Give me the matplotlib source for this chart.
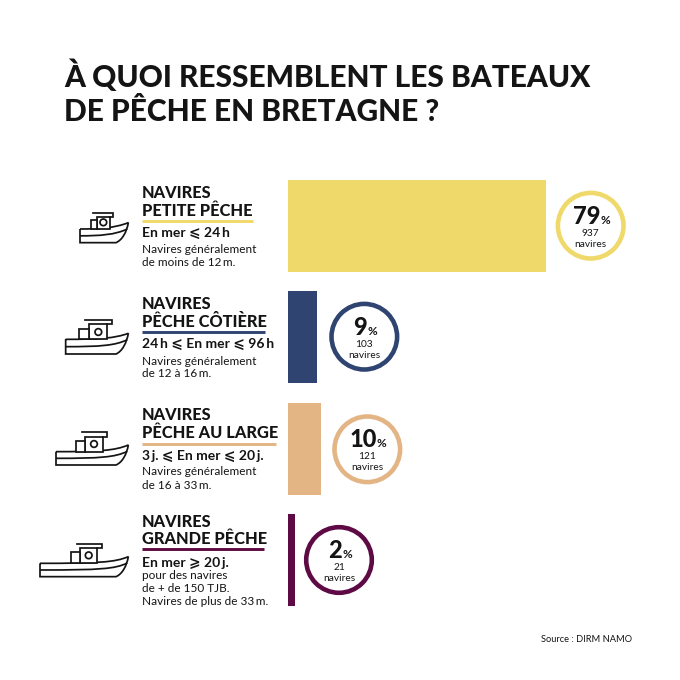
import matplotlib
matplotlib.use("Agg")
import matplotlib.pyplot as plt
from matplotlib.patches import Circle, Rectangle, PathPatch
from matplotlib.path import Path

FONT = ['Lato', 'DejaVu Sans']
INK = '#141414'

title_lines = ["À QUOI RESSEMBLENT LES BATEAUX", "DE PÊCHE EN BRETAGNE ?"]
categories = ["PETITE PÊCHE", "PÊCHE CÔTIÈRE", "PÊCHE AU LARGE", "GRANDE PÊCHE"]
percent = [79, 9, 10, 2]
counts = [937, 103, 121, 21]
duration = ["En mer ⩽ 24\u2009h", "24\u2009h ⩽ En mer ⩽ 96\u2009h", "3\u2009j. ⩽ En mer ⩽ 20\u2009j.", "En mer ⩾ 20\u2009j."]
notes = [
    ["Navires généralement", "de moins de 12\u2009m."],
    ["Navires généralement", "de 12 à 16\u2009m."],
    ["Navires généralement", "de 16 à 33\u2009m."],
    ["pour des navires", "de + de 150 TJB.", "Navires de plus de 33\u2009m."],
]
source = "Source : DIRM NAMO"

colors = ['#F0D96B', '#2F4470', '#E3B584', '#5E0B45']
# layout (pixels)
head_y = [(198, 215.6), (309.3, 327.3), (420, 437.7), (527, 544)]
rule_y = [220.7, 332, 443.7, 549.3]
rule_x = [252.5, 265, 276, 263.5]
dur_y = [236.7, 348, 460, 566.7]
note_y = [[253, 265.6], [365, 376.7], [475, 489], [579, 591.7, 605]]
circle_xy = [(590.7, 225.7), (364.3, 336.7), (367.3, 449.3), (339, 560)]
# boat: base offset, left, top, bottom, right-tip y, cabin l/r/top, small l/top, roof l/r/y, porthole x/y (zoom units)
boats = [
    (170, 150, 177, 218, 158, 200, 240, 140, 182, 150, 190, 250, 128, 220, 157),
    (170, 107, 508, 552, 490, 177, 232, 463, 148, 478, 165, 245, 451, 205, 486),
    (395, 78, 170, 210, 150, 165, 218, 125, 137, 137, 155, 230, 112, 192, 147),
    (395, 30, 505, 545, 485, 150, 202, 460, 122, 472, 140, 215, 447, 176, 481),
]

fig = plt.figure(figsize=(6.8, 6.8), dpi=100, facecolor='white')
ax = fig.add_axes([0, 0, 1, 1])
ax.set_xlim(0, 680)
ax.set_ylim(680, 0)
ax.axis('off')

# Bars on their own percentage axis
W = 327.0
bax = fig.add_axes([288 / 680, 1 - 615.67 / 680, W / 680, (615.67 - 170.33) / 680])
bax.barh(range(len(percent)), percent, height=92 / 111.33, color=colors)
bax.set_xlim(0, 100)
bax.set_ylim(3.5, -0.5)
bax.axis('off')


def T(x, y, s, size, weight='normal', **kw):
    ax.text(x, y, s, fontsize=size, fontweight=weight, family=FONT, color=INK,
            va='baseline', **kw)


T(64, 87, title_lines[0], 21.5, 'black')
T(64, 120.7, title_lines[1], 21.5, 'black')

for i, cat in enumerate(categories):
    T(141.5, head_y[i][0], "NAVIRES", 11.8, 'black')
    T(141.5, head_y[i][1], cat, 11.8, 'black')
    ax.add_line(plt.Line2D([141.5, rule_x[i]], [rule_y[i]] * 2, color=colors[i], lw=2.1,
                           solid_capstyle='butt'))
    T(141.5, dur_y[i], duration[i], 10, 'bold')
    for y, s in zip(note_y[i], notes[i]):
        T(141.5, y, s, 8.5)

    cx, cy = circle_xy[i]
    ax.add_patch(Circle((cx, cy), 32.8, fc='white', ec=colors[i], lw=3.3))
    T(cx - 4, cy - 2, f"{percent[i]}", 17, 'black', ha='center')
    T(cx + (9.5 if percent[i] > 9 else 3.5), cy - 2, "%", 8.5, 'bold', ha='left')
    T(cx, cy + 10, f"{counts[i]}", 7.3, ha='center')
    T(cx, cy + 21, "navires", 7.3, ha='center')


def boat(b):
    base, l, top, bot, tip, cl, cr, ct, sl, st, rl, rr, ry, px, py = b
    X = lambda z: 30 + z / 3
    Y = lambda z: base + z / 3
    lw = 1.25
    kw = dict(color=INK, lw=lw, solid_joinstyle='miter', solid_capstyle='projecting')
    R = 295
    hull = Path(
        [(X(l), Y(top)), (X(205), Y(top)), (X(255), Y(top - 3)), (X(R), Y(tip)),
         (X(R - 5), Y(tip + 28)), (X(R - 18), Y(bot - 8)), (X(R - 37), Y(bot)),
         (X(l), Y(bot)), (X(l), Y(top))],
        [Path.MOVETO, Path.CURVE4, Path.CURVE4, Path.CURVE4, Path.CURVE4, Path.CURVE4, Path.CURVE4,
         Path.LINETO, Path.LINETO])
    ax.add_patch(PathPatch(hull, fc='white', ec=INK, lw=lw))
    mid = (top + bot) / 2
    inner = Path([(X(l), Y(mid)), (X(210), Y(mid)), (X(255), Y(mid - 3)), (X(R - 3), Y(tip + 19))],
                 [Path.MOVETO, Path.CURVE4, Path.CURVE4, Path.CURVE4])
    ax.add_patch(PathPatch(inner, fc='none', ec=INK, lw=lw))
    ax.add_patch(Rectangle((X(cl), Y(ct)), (cr - cl) / 3, (top - ct) / 3, fc='white', ec=INK, lw=lw))
    ax.add_patch(Rectangle((X(sl), Y(st)), (cl - sl) / 3, (top - st) / 3, fc='white', ec=INK, lw=lw))
    ax.plot([X(rl), X(rr), X(rr), X(cr)], [Y(ry), Y(ry), Y(ct), Y(ct)], **kw)
    ax.add_patch(Circle((X(px), Y(py)), 10 / 3, fc='white', ec=INK, lw=lw))


for b in boats:
    boat(b)

T(632, 642, source, 6.7, ha='right')

fig.savefig('out.png', dpi=100)
